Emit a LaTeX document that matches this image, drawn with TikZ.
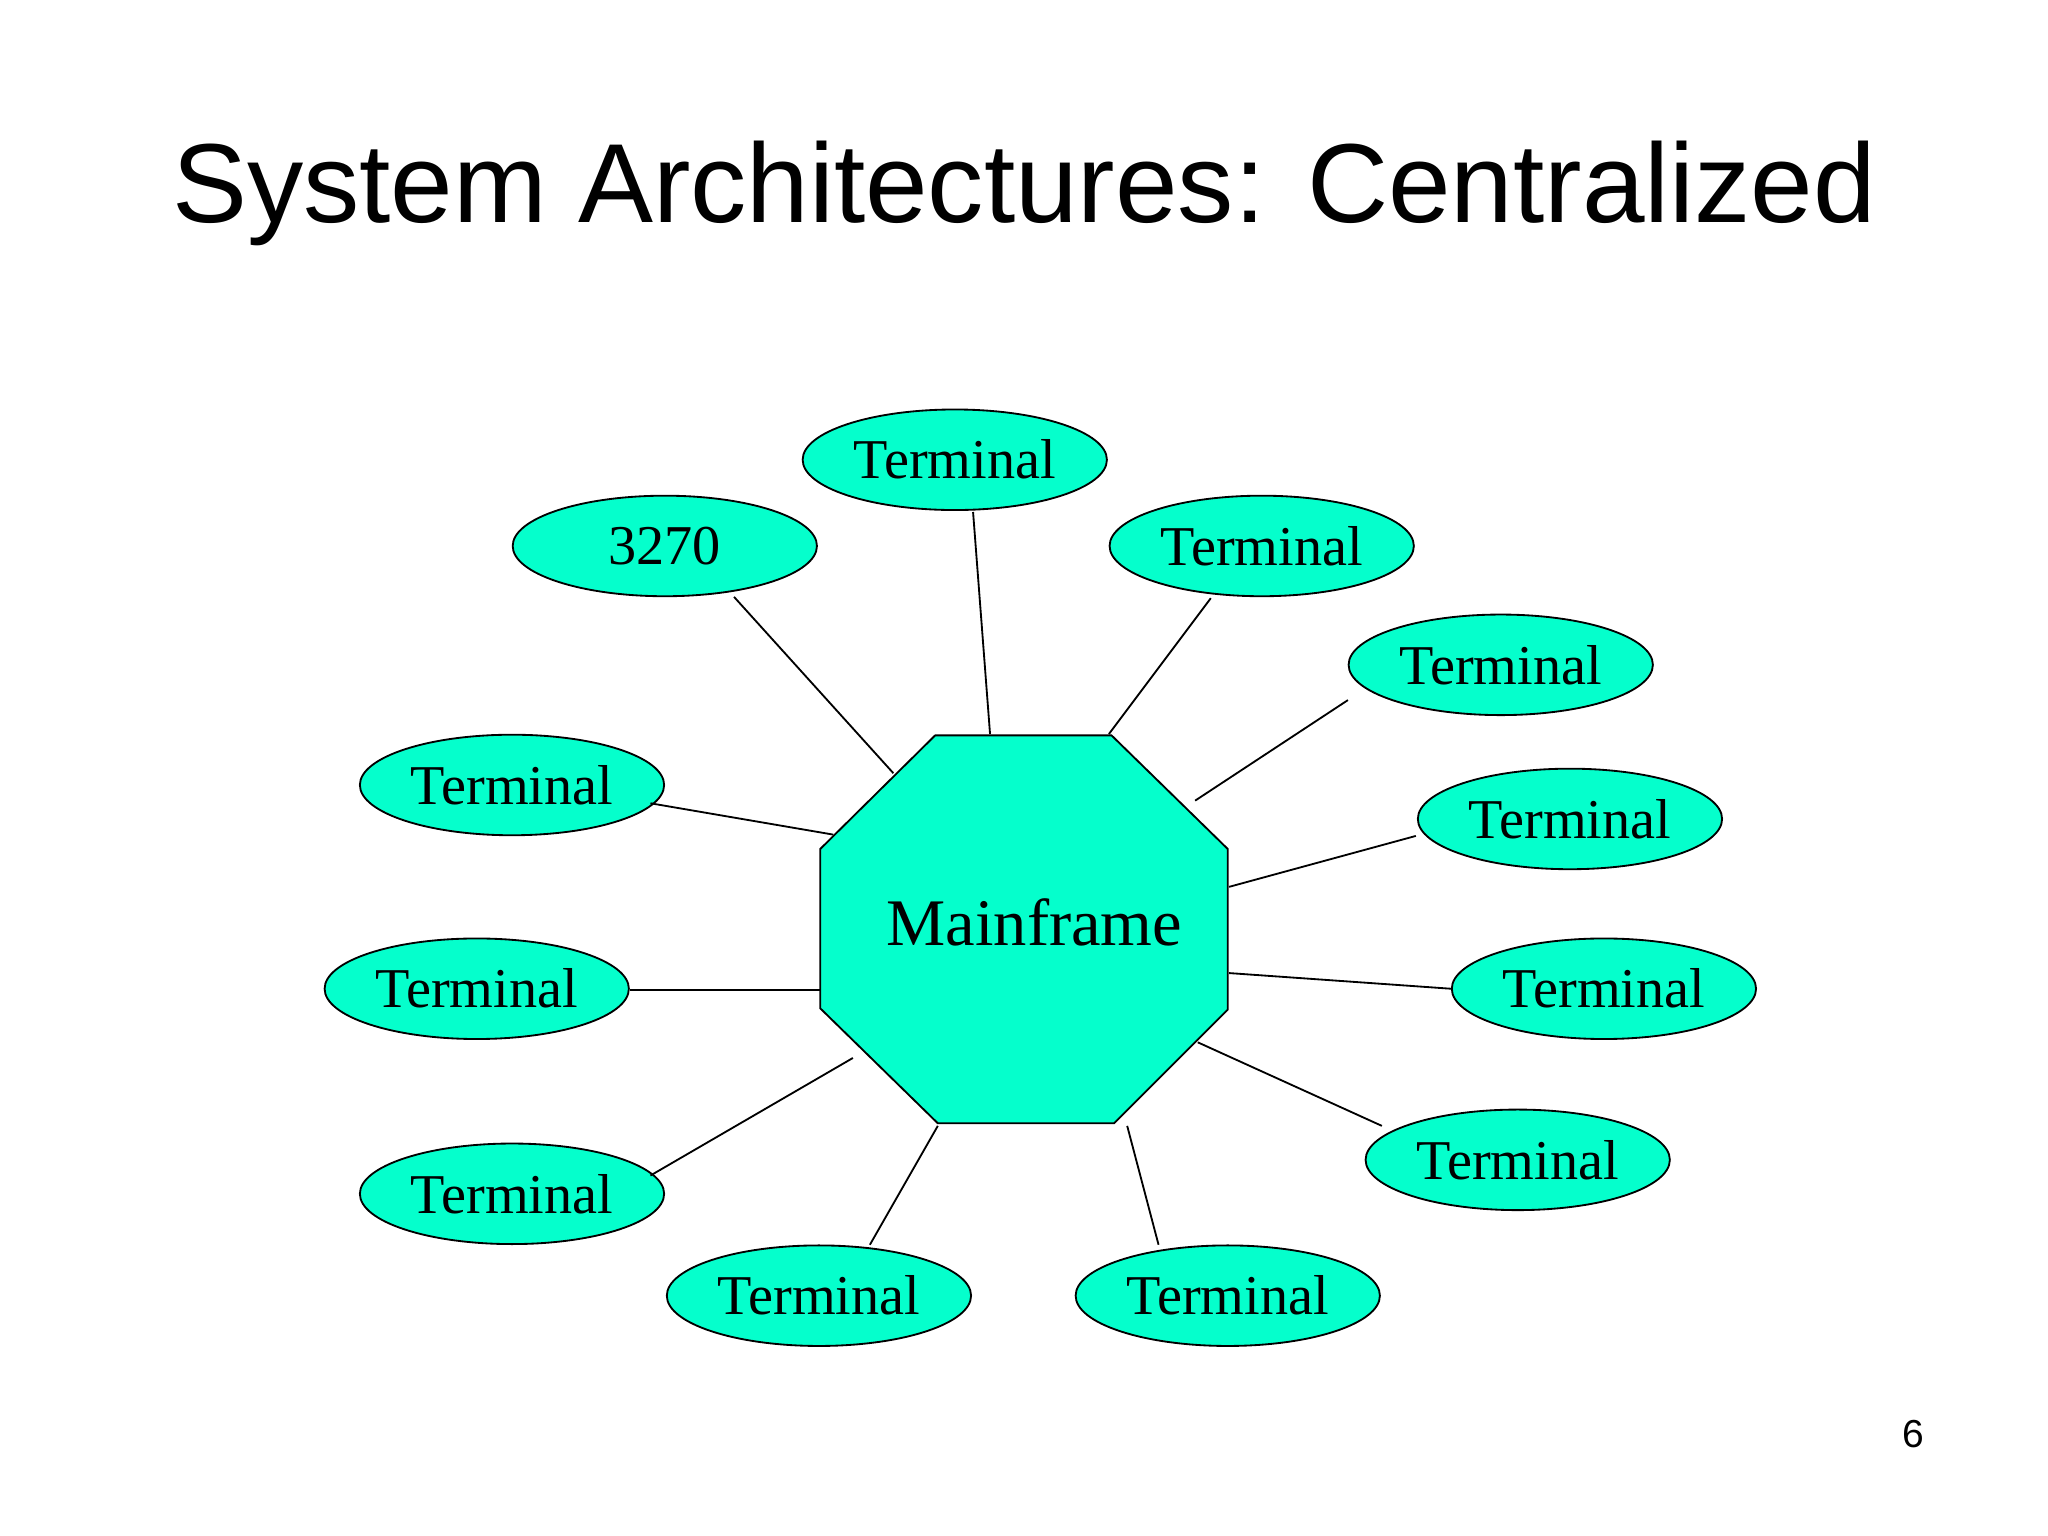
\documentclass[tikz,border=0pt]{standalone}
\usepackage{fontspec}
\usetikzlibrary{shapes.geometric}
\setmainfont{Liberation Serif}
\newfontfamily\titlefont{Liberation Sans}
\definecolor{aqua}{RGB}{5,255,204}
\begin{document}
\begin{tikzpicture}[x=0.02cm,y=-0.02cm,
  term/.style={ellipse,draw=black,fill=aqua,line width=0.8pt,minimum width=4.66cm,minimum height=1.54cm,inner sep=0pt,font=\fontsize{24.5}{28}\selectfont},
  link/.style={line width=0.8pt}]
\useasboundingbox[fill=white] (0,0) rectangle (1568,1176);
\node[font=\titlefont\fontsize{49}{56}\selectfont] (title) at (784,148) {System Architectures: Centralized};
\node[font=\titlefont\fontsize{17}{20}\selectfont] (pg) at (1465,1098) {6};
\draw[fill=aqua,line width=0.8pt] (716,563)--(851,563)--(940,650)--(940,773)--(853,860)--(718,860)--(628,772)--(628,650)--cycle;
\node[font=\fontsize{29}{34}\selectfont] (mf) at (792,706) {Mainframe};
\node[term] (t0) at (509,418) {3270};
\node[term] (t1) at (731,352) {Terminal};
\node[term] (t2) at (966,418) {Terminal};
\node[term] (t3) at (1149,509) {Terminal};
\node[term] (t4) at (1202,627) {Terminal};
\node[term] (t5) at (1228,757) {Terminal};
\node[term] (t6) at (1162,888) {Terminal};
\node[term] (t7) at (940,992) {Terminal};
\node[term] (t8) at (627,992) {Terminal};
\node[term] (t9) at (392,914) {Terminal};
\node[term] (t10) at (365,757) {Terminal};
\node[term] (t11) at (392,601) {Terminal};
\foreach \i/\a/\b/\c/\d in {0/562/457/684/592,1/745/392/758/562,2/927/458/849/562,3/1032/536/915/613,4/1084/640/941/679,5/1111/757/941/745,6/1058/862/917/798,7/887/953/863/862,8/666/953/718/862,9/498/900/653/810,10/482/758/628/758,11/498/615/638/639}{
  \coordinate (s\i) at (\a,\b); \coordinate (e\i) at (\c,\d);
  \draw[link] (s\i) -- (e\i);}
\end{tikzpicture}
\end{document}
